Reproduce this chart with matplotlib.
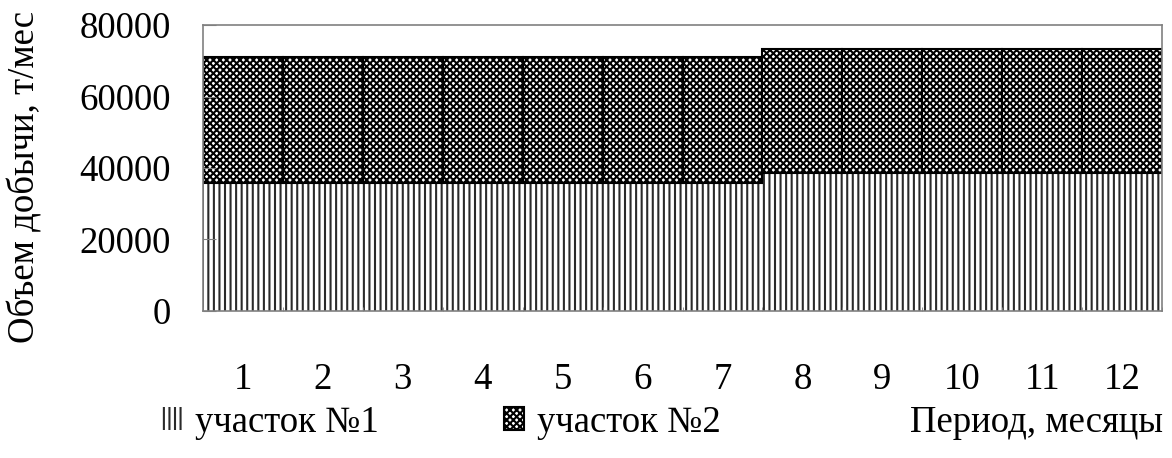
import numpy as np
import matplotlib
matplotlib.use('Agg')
import matplotlib.pyplot as plt

# Monthly output, t/month
months = ['1', '2', '3', '4', '5', '6', '7', '8', '9', '10', '11', '12']
site1 = [35800, 35800, 35800, 35800, 35800, 35800, 35800,
         38650, 38650, 38650, 38650, 38650]
site2 = [35300, 35300, 35300, 35300, 35300, 35300, 35300,
         34550, 34550, 34550, 34550, 34550]
y_ticks = [0, 20000, 40000, 60000, 80000]

plt.rcParams['font.family'] = ['Liberation Serif', 'DejaVu Serif']
plt.rcParams['font.size'] = 26.5
plt.rcParams['hatch.linewidth'] = 1.5
plt.rcParams['hatch.color'] = '#2a2a2a'

fig = plt.figure(figsize=(11.72, 4.58), dpi=100)
ax = fig.add_axes([0.1732, 0.3210, 0.8183, 0.6244])

x = np.arange(len(months))
ax.bar(x, site1, width=1.0, color='white', edgecolor='#2a2a2a',
       linewidth=0, hatch='|||', label='участок №1')
ax.bar(x, site2, bottom=site1, width=1.0, color='white', edgecolor='black',
       linewidth=1.5, hatch='xxxxx', label='участок №2')

ax.set_xlim(-0.5, len(months) - 0.5)
ax.set_ylim(0, 80000)
ax.set_yticks(y_ticks)
ax.set_yticklabels([str(v) for v in y_ticks])
ax.set_xticks(x)
ax.set_xticklabels(months)
ax.set_xticks(np.arange(len(months) + 1) - 0.5, minor=True)

ax.tick_params(axis='x', which='major', length=0, pad=37)
ax.tick_params(axis='x', which='minor', direction='in', length=3, color='#808080')
ax.tick_params(axis='y', direction='in', length=9, color='#808080', pad=23)

for s in ax.spines.values():
    s.set_color('#808080')
    s.set_linewidth(1.2)

ax.set_ylabel('Объем добычи, т/мес')
ax.yaxis.set_label_coords(-0.167, 0.47)

fig.legend(loc='center left', bbox_to_anchor=(0.122, 0.078), ncol=2,
           frameon=False, handlelength=0.55, handleheight=0.55,
           handletextpad=0.35, columnspacing=3.4, borderpad=0)
fig.text(0.992, 0.078, 'Период, месяцы', ha='right', va='center')

fig.savefig('out.png', dpi=100)
